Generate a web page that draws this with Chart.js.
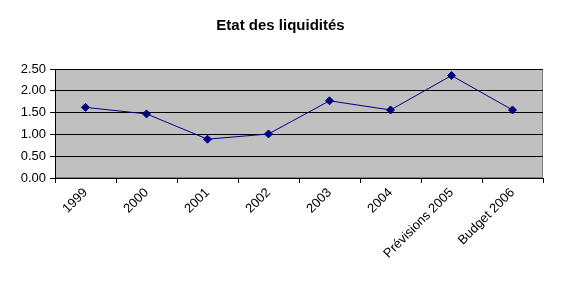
<!DOCTYPE html>
<html>
<head>
<meta charset="utf-8">
<script src="https://cdn.jsdelivr.net/npm/chart.js@4"></script>
<style>
  html, body { margin: 0; padding: 0; background: #fff; }
  #wrap { width: 561px; height: 287px; }
</style>
</head>
<body>
<div id="wrap"><canvas id="graph"></canvas></div>
<script>
// categories and values
var years = ["1999", "2000", "2001", "2002", "2003", "2004", "Prévisions 2005", "Budget 2006"]
var liquidites = [1.62, 1.47, 0.89, 1.01, 1.77, 1.56, 2.35, 1.56]
var yTicks = [0, 0.5, 1, 1.5, 2, 2.5]

var fontName = "'Liberation Sans', Arial, sans-serif"

// fond gris de la zone de tracé, style Excel
const plotBackground = {
    id: "plotBackground",
    beforeDraw: (chart) => {
        let a = chart.chartArea
        let ctx = chart.ctx
        ctx.save()
        ctx.fillStyle = "#c0c0c0"
        ctx.fillRect(a.left, a.top, a.right - a.left, a.bottom - a.top)
        ctx.strokeStyle = "#808080"
        ctx.lineWidth = 1
        ctx.strokeRect(a.left + 0.5, a.top + 0.5, a.right - a.left - 1, a.bottom - a.top - 1)
        ctx.restore()
    }
}

var ctxGraph = document.getElementById("graph").getContext("2d")
var chartLiq = new Chart(ctxGraph, {
    type: "line",
    data: {
        labels: years,
        datasets: [{
            label: "Liquidités",
            data: liquidites,
            borderColor: "#000080",
            backgroundColor: "#000080",
            borderWidth: 1,
            pointStyle: "rectRot",
            pointRadius: 4,
            pointHoverRadius: 4,
            tension: 0
        }]
    },
    options: {
        responsive: true,
        maintainAspectRatio: false,
        animation: false,
        // padding symétrique pour que le titre soit centré sur la page
        layout: { padding: { left: 18, right: 18, top: 0, bottom: 0 } },
        plugins: {
            legend: { display: false },
            tooltip: { enabled: false },
            title: {
                display: true,
                text: "Etat des liquidités",
                color: "#000",
                font: { family: fontName, size: 15, weight: "bold" },
                padding: { top: 17, bottom: 34 }
            }
        },
        scales: {
            x: {
                offset: true,
                afterFit: (scale) => { scale.height = 109 },
                grid: {
                    offset: true,
                    drawOnChartArea: false,
                    drawTicks: true,
                    tickLength: 5,
                    color: "#000"
                },
                border: { color: "#000", width: 1 },
                ticks: {
                    color: "#000",
                    font: { family: fontName, size: 13 },
                    maxRotation: 45,
                    minRotation: 45,
                    autoSkip: false,
                    padding: 2
                }
            },
            y: {
                min: 0,
                max: 2.5,
                afterFit: (scale) => { scale.width = 37 },
                afterBuildTicks: (scale) => { scale.ticks = yTicks.map((v) => ({ value: v })) },
                grid: {
                    color: "#000",
                    drawTicks: true,
                    tickLength: 5
                },
                border: { color: "#000", width: 1 },
                ticks: {
                    color: "#000",
                    font: { family: fontName, size: 13 },
                    padding: 4,
                    callback: (v) => Number(v).toFixed(2)
                }
            }
        }
    },
    plugins: [plotBackground]
})
</script>
</body>
</html>
